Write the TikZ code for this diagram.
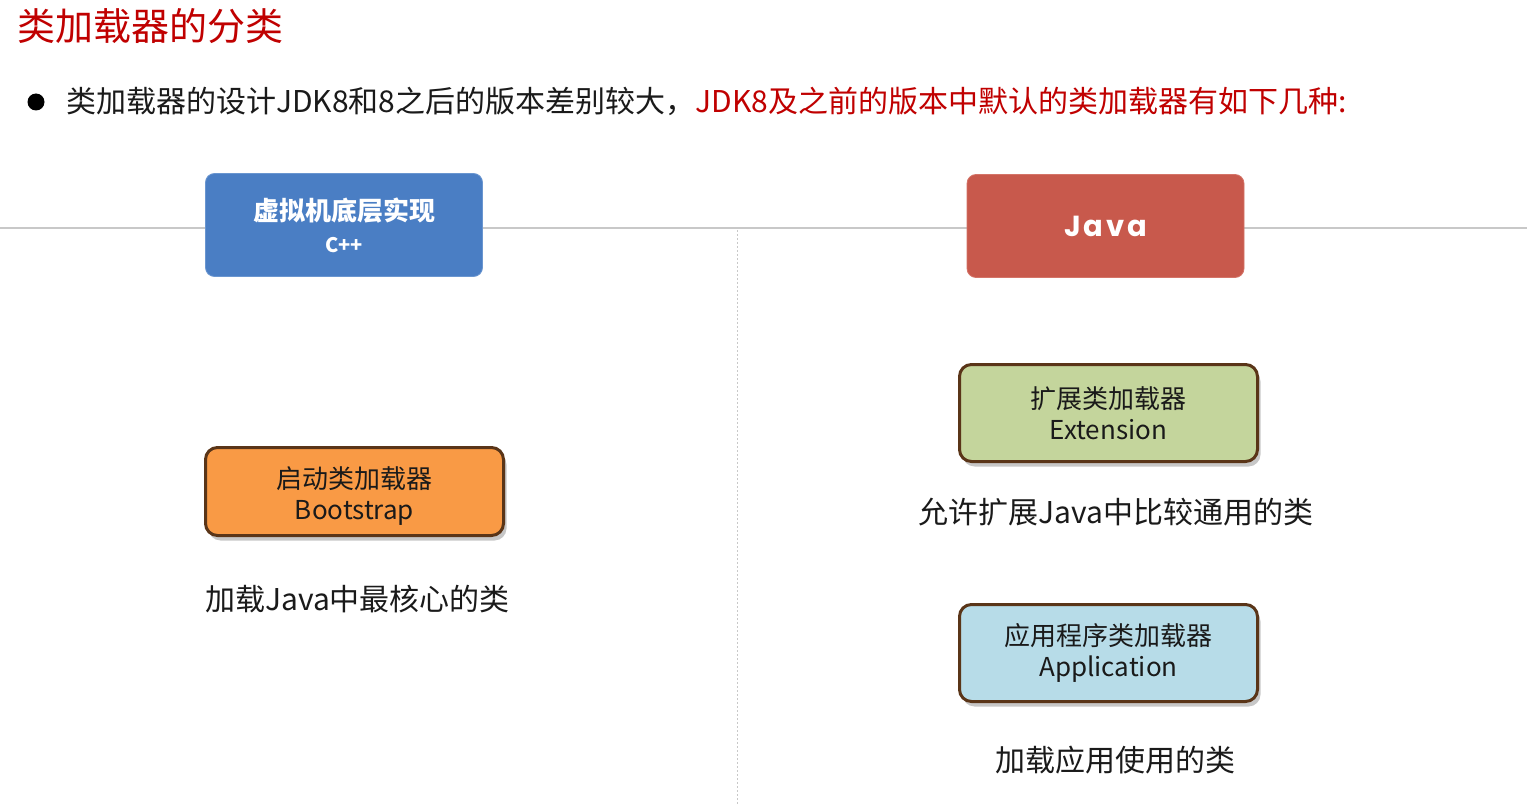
\documentclass[tikz,border=0pt]{standalone}
\usepackage{fontspec}
\setmainfont{Noto Sans CJK SC}
\newfontfamily\javafont[LetterSpace=10]{Poppins}
\usetikzlibrary{shadows}
\definecolor{titlered}{HTML}{C00000}
\definecolor{txt}{HTML}{1A1A1A}
\definecolor{vmblue}{HTML}{4A7EC4}
\definecolor{vmblueedge}{HTML}{6A96D0}
\definecolor{javared}{HTML}{C8594C}
\definecolor{javarededge}{HTML}{D47468}
\definecolor{bootorange}{HTML}{F99A45}
\definecolor{extgreen}{HTML}{C4D59C}
\definecolor{appblue}{HTML}{B7DCE8}
\definecolor{edgebrown}{HTML}{5A3518}
\definecolor{rulegray}{HTML}{C8C8C8}
\tikzset{
  headbox/.style={rounded corners=9pt, draw, line width=0.8pt, text=white,
    minimum width=277pt, minimum height=103pt, align=center, inner sep=0pt},
  loaderbox/.style={rounded corners=12pt, draw=edgebrown, line width=3pt,
    minimum width=298pt, minimum height=97pt, align=center, inner sep=0pt,
    text=txt, font=\fontsize{26}{31}\selectfont,
    drop shadow={shadow xshift=3pt, shadow yshift=-5pt, opacity=0.22, fill=black}},
  caption/.style={text=txt, font=\fontsize{30}{36}\selectfont, inner sep=0pt},
}
\begin{document}
\begin{tikzpicture}[x=1pt,y=-1pt]
\useasboundingbox[fill=white] (0,0) rectangle (1527,805);

% section rule and column divider
\coordinate (ruleL) at (0,228);
\coordinate (ruleR) at (1527,228);
\coordinate (divT) at (737,230);
\coordinate (divB) at (737,805);
\draw[rulegray, line width=1.2pt] (ruleL) -- (ruleR);
\draw[rulegray, line width=0.8pt, dash pattern=on 2pt off 2pt] (divT) -- (divB);

% heading and bullet line
\node[anchor=west, inner sep=0pt, text=titlered, font=\fontsize{38}{40}\selectfont] (title) at (17,26) {类加载器的分类};
\node[circle, fill=black, minimum size=17pt, inner sep=0pt] (bullet) at (36,102) {};
\node[anchor=west, inner sep=0pt, text=txt, font=\fontsize{30}{34}\selectfont] (intro) at (66,101)
  {类加载器的设计JDK8和8之后的版本差别较大，\textcolor{titlered}{JDK8及之前的版本中默认的类加载器有如下几种:}};

% implementation headers
\node[headbox, fill=vmblue, draw=vmblueedge, font=\fontsize{26}{32}\selectfont\bfseries] (vm) at (344,225)
  {虚拟机底层实现\\{\fontsize{20}{30}\selectfont C++}};
\node[headbox, fill=javared, draw=javarededge] (java) at (1105.5,226)
  {\javafont\bfseries\fontsize{29}{32}\selectfont Java};

% class loaders
\node[loaderbox, fill=bootorange, minimum height=88pt] (boot) at (354.5,491.5) {\rule{0pt}{30pt}启动类加载器\\Bootstrap};
\node[loaderbox, fill=extgreen] (ext) at (1108.5,413) {扩展类加载器\\Extension};
\node[loaderbox, fill=appblue] (app) at (1108.5,653) {应用程序类加载器\\Application};

% descriptions
\node[caption] (bootcap) at (357.5,599) {加载Java中最核心的类};
\node[caption] (extcap) at (1116,512) {允许扩展Java中比较通用的类};
\node[caption] (appcap) at (1115,760) {加载应用使用的类};
\end{tikzpicture}
\end{document}
